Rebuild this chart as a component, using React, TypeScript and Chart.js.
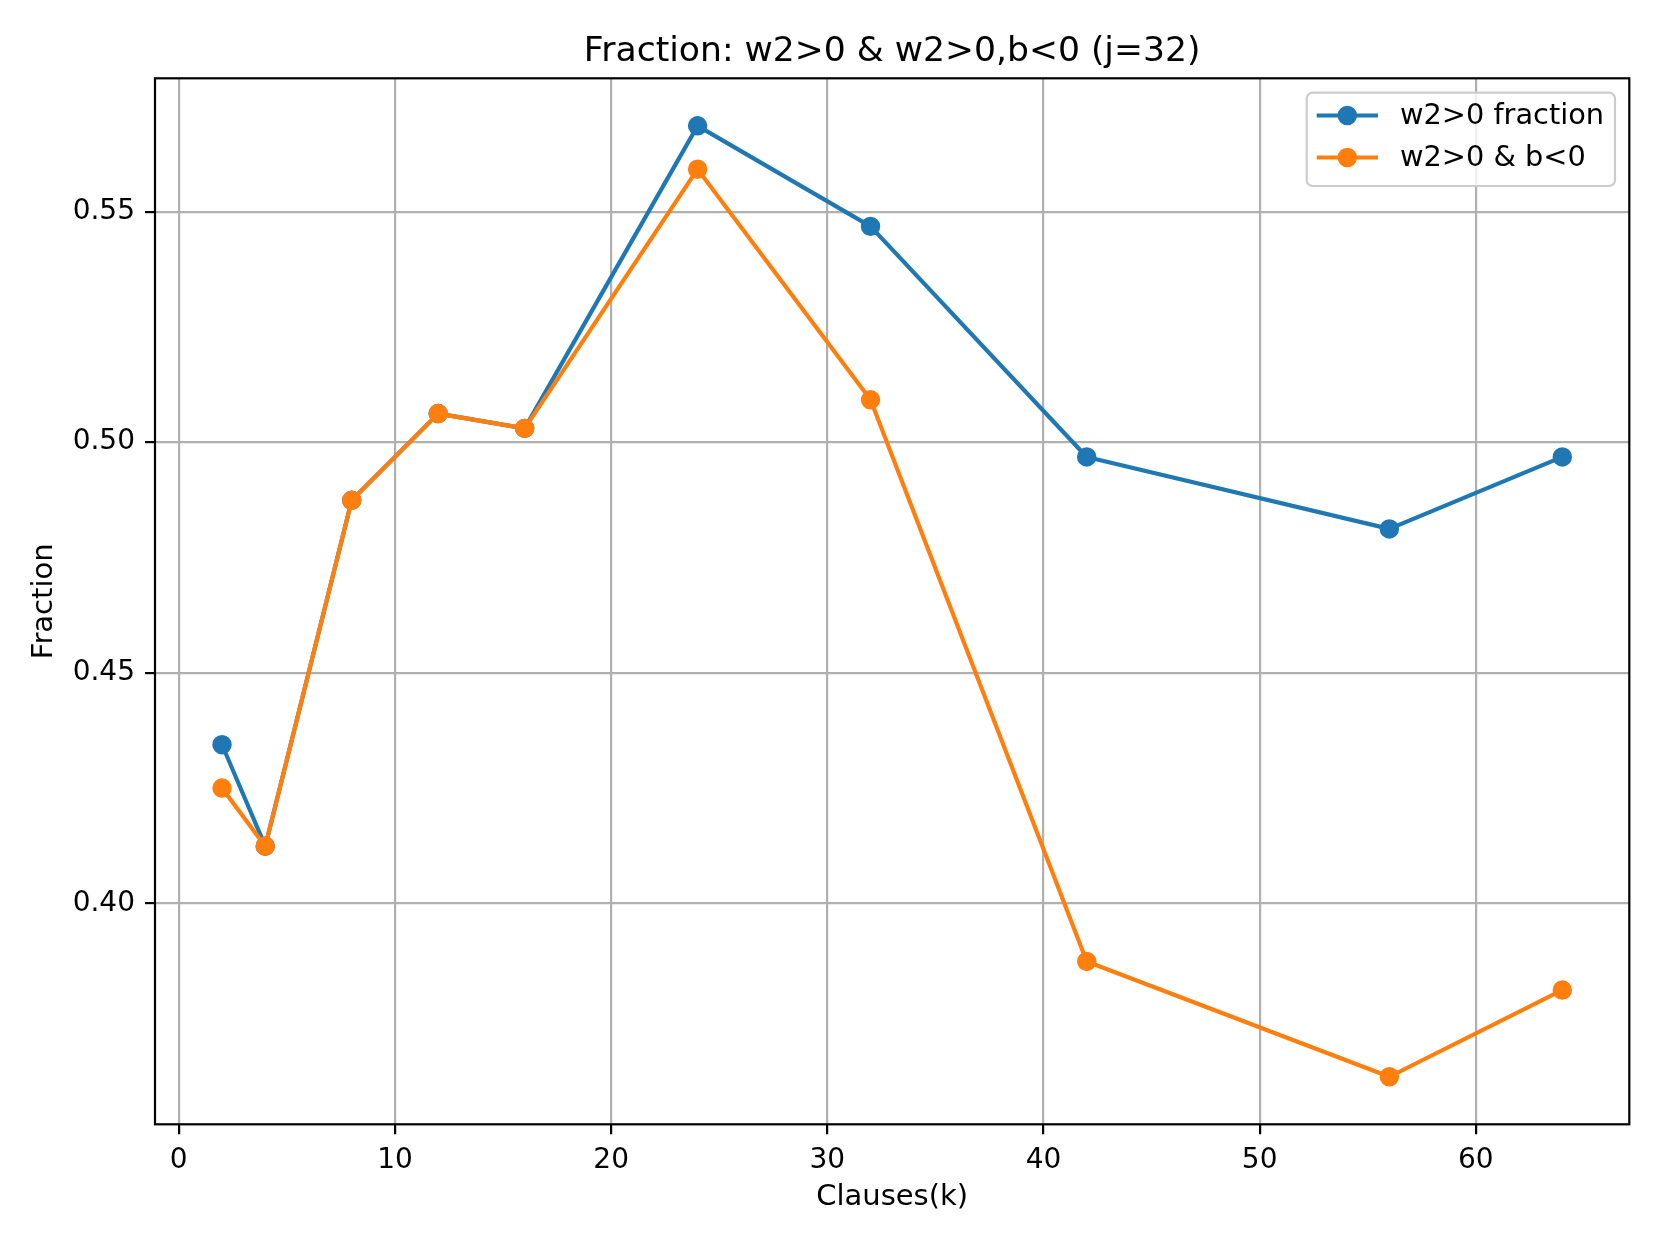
import React, { useEffect, useRef } from "react";
import { Chart, registerables } from "chart.js";

Chart.register(...registerables);

// ---- data ----
const clauses = [2, 4, 8, 12, 16, 24, 32, 42, 56, 64];
const w2PosFraction = [0.4344, 0.4124, 0.4874, 0.5062, 0.503, 0.5686, 0.5468, 0.4968, 0.4812, 0.4968];
const w2PosBNeg = [0.425, 0.4124, 0.4874, 0.5062, 0.503, 0.5592, 0.5092, 0.3874, 0.3624, 0.3812];
const seriesLabels = ["w2>0 fraction", "w2>0 & b<0"];
const seriesColors = ["#1f77b4", "#ff7f0e"];
const xTickValues = [0, 10, 20, 30, 40, 50, 60];
const yTickValues = [0.4, 0.45, 0.5, 0.55];
const titleText = "Fraction: w2>0 & w2>0,b<0 (j=32)";
const xLabel = "Clauses(k)";
const yLabel = "Fraction";

const W = 1661;
const H = 1246;
const FONT = '"DejaVu Sans", "Liberation Sans", sans-serif';

const LINE_W = 4.17;
const MARKER_R = 8.35;
const MARKER_EDGE = 2.78;

function limits(vals: number[]) {
  const lo = Math.min(...vals);
  const hi = Math.max(...vals);
  const m = (hi - lo) * 0.05;
  return [lo - m, hi + m];
}

const frameAndTextPlugin = {
  id: "mplDecor",
  afterDatasetsDraw(chart: any) {
    const { ctx, chartArea } = chart;
    ctx.save();
    ctx.strokeStyle = "#000";
    ctx.lineWidth = 2.2;
    ctx.lineJoin = "miter";
    ctx.strokeRect(chartArea.left, chartArea.top, chartArea.right - chartArea.left, chartArea.bottom - chartArea.top);
    ctx.restore();
  },
  afterDraw(chart: any) {
    const { ctx, chartArea } = chart;
    ctx.save();
    // title
    ctx.fillStyle = "#000";
    ctx.font = `34.6px ${FONT}`;
    ctx.textAlign = "center";
    ctx.textBaseline = "alphabetic";
    ctx.fillText(titleText, (chartArea.left + chartArea.right) / 2, 60.7);

    // legend
    const bx = 1306.7, by = 92.7, bw = 1615 - 1306.7, bh = 186 - 92.7;
    ctx.beginPath();
    (ctx as any).roundRect(bx, by, bw, bh, 6);
    ctx.fillStyle = "rgba(255,255,255,0.8)";
    ctx.fill();
    ctx.strokeStyle = "#cccccc";
    ctx.lineWidth = 2.2;
    ctx.stroke();

    const rowsY = [115.5, 157.5];
    const textY = [116.7, 159];
    chart.data.datasets.forEach((_ds: any, k: number) => {
      const idx = k;
      const color = seriesColors[idx];
      const y = rowsY[idx];
      ctx.strokeStyle = color;
      ctx.lineWidth = LINE_W;
      ctx.lineCap = "butt";
      ctx.beginPath();
      ctx.moveTo(1316.7, y);
      ctx.lineTo(1378, y);
      ctx.stroke();
      ctx.beginPath();
      ctx.arc(1347.3, y, MARKER_R, 0, Math.PI * 2);
      ctx.fillStyle = color;
      ctx.fill();
      ctx.lineWidth = MARKER_EDGE;
      ctx.stroke();
      ctx.fillStyle = "#000";
      ctx.font = `28.8px ${FONT}`;
      ctx.textAlign = "left";
      ctx.textBaseline = "middle";
      ctx.fillText(seriesLabels[idx], 1400, textY[idx]);
    });
    ctx.restore();
  },
};

export default function App() {
  const ref = useRef<HTMLCanvasElement | null>(null);

  useEffect(() => {
    if (!ref.current) return;
    const [xMin, xMax] = limits(clauses);
    const [yMin, yMax] = limits([...w2PosFraction, ...w2PosBNeg]);

    const mkDs = (vals: number[], i: number, order: number) => ({
      label: seriesLabels[i],
      data: clauses.map((x, j) => ({ x, y: vals[j] })),
      borderColor: seriesColors[i],
      backgroundColor: seriesColors[i],
      pointBackgroundColor: seriesColors[i],
      pointBorderColor: seriesColors[i],
      borderWidth: LINE_W,
      pointRadius: MARKER_R,
      pointBorderWidth: MARKER_EDGE,
      pointHoverRadius: MARKER_R,
      tension: 0,
      borderJoinStyle: "round" as const,
      borderCapStyle: "square" as const,
      fill: false,
      order,
    });

    const chart = new Chart(ref.current, {
      type: "line",
      data: {
        datasets: [mkDs(w2PosFraction, 0, 1), mkDs(w2PosBNeg, 1, 0)],
      },
      options: {
        animation: false,
        responsive: false,
        devicePixelRatio: 1,
        layout: { padding: { left: 0, top: 78.3, right: W - 1629.3, bottom: 0 } },
        plugins: {
          legend: { display: false },
          title: { display: false },
          tooltip: { enabled: false },
        },
        scales: {
          x: {
            type: "linear",
            min: xMin,
            max: xMax,
            afterBuildTicks: (scale: any) => {
              scale.ticks = xTickValues.map((v) => ({ value: v }));
            },
            afterFit: (scale: any) => {
              scale.height = H - 1124.3;
            },
            grid: {
              color: "#b0b0b0",
              lineWidth: 2.2,
              tickLength: 10,
              tickColor: "#000",
              tickWidth: 2.2,
            },
            border: { display: false },
            ticks: {
              color: "#000",
              font: { family: FONT, size: 28 },
              padding: 10,
              maxRotation: 0,
              autoSkip: false,
              callback: (v: any) => String(v),
            },
            title: {
              display: true,
              text: xLabel,
              color: "#000",
              font: { family: FONT, size: 29, lineHeight: 1.2 },
              padding: { top: 0, bottom: 31.5 },
            },
          },
          y: {
            type: "linear",
            min: yMin,
            max: yMax,
            afterBuildTicks: (scale: any) => {
              scale.ticks = yTickValues.map((v) => ({ value: v }));
            },
            afterFit: (scale: any) => {
              scale.width = 155;
            },
            grid: {
              color: "#b0b0b0",
              lineWidth: 2.2,
              tickLength: 10,
              tickColor: "#000",
              tickWidth: 2.2,
            },
            border: { display: false },
            ticks: {
              color: "#000",
              font: { family: FONT, size: 28 },
              padding: 10,
              autoSkip: false,
              callback: (v: any) => Number(v).toFixed(2),
            },
            title: {
              display: true,
              text: yLabel,
              color: "#000",
              font: { family: FONT, size: 29, lineHeight: 1.2 },
              padding: { top: 27.5, bottom: 0 },
            },
          },
        },
      },
      plugins: [frameAndTextPlugin],
    });
    return () => chart.destroy();
  }, []);

  return (
    <div style={{ position: "fixed", left: 0, top: 0, width: W, height: H, background: "#fff" }}>
      <canvas ref={ref} width={W} height={H} style={{ width: W, height: H, display: "block" }} />
    </div>
  );
}
